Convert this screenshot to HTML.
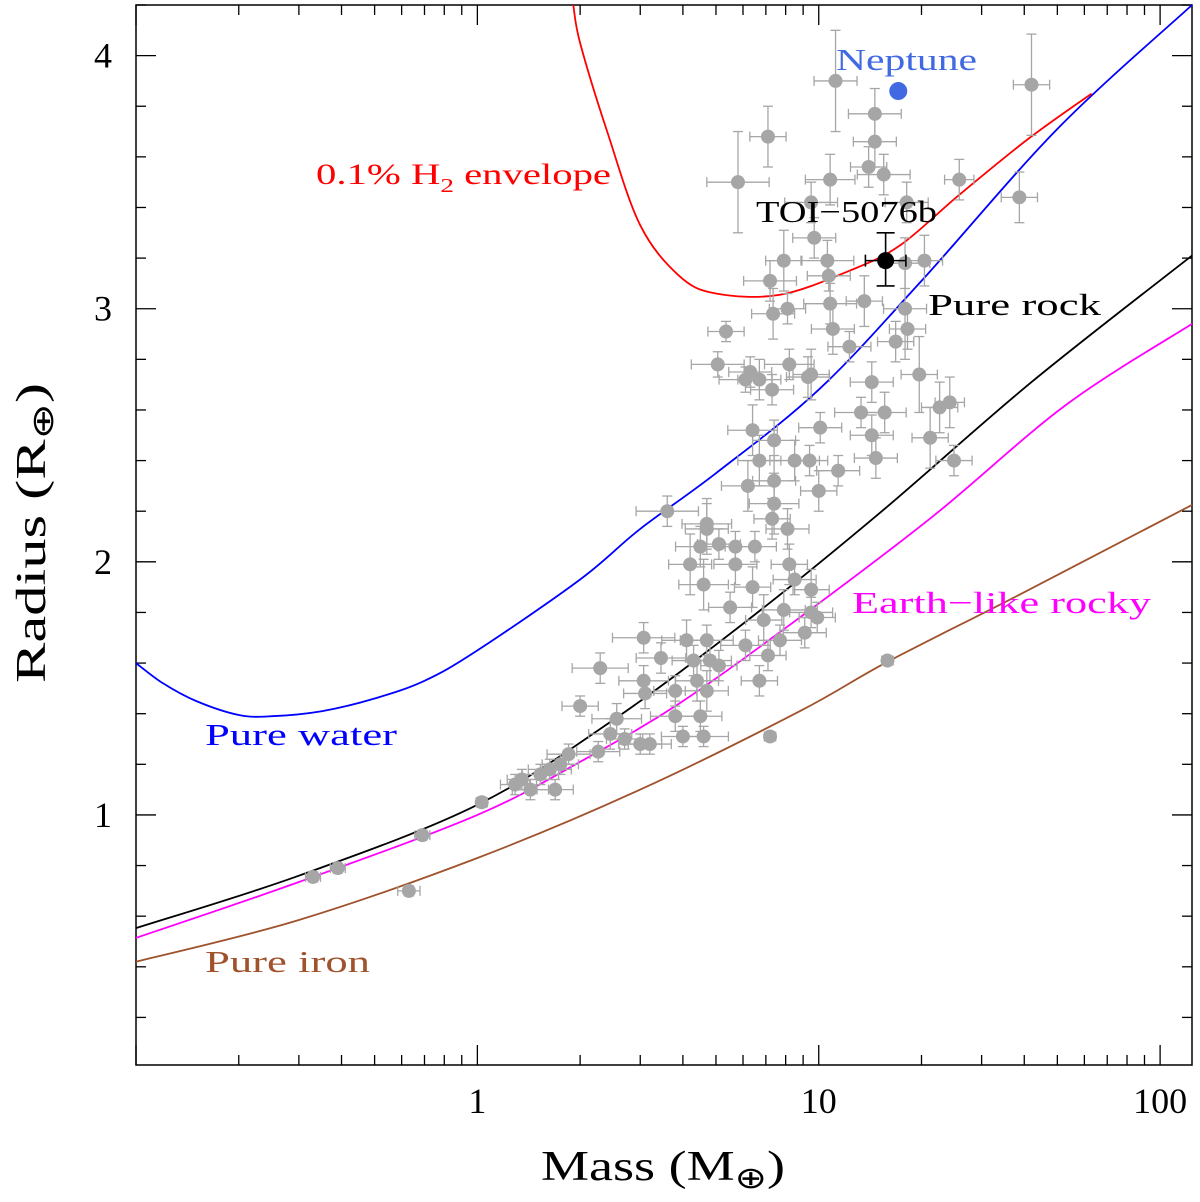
<!DOCTYPE html>
<html><head><meta charset="utf-8">
<style>
html,body{margin:0;padding:0;background:#fff;}
svg{display:block;font-family:"Liberation Serif",serif;}
</style></head>
<body>
<svg id="chart" width="1200" height="1202" viewBox="0 0 1200 1202">
<rect x="136" y="5" width="1056" height="1060" fill="none" stroke="#000" stroke-width="1.5"/>
<g id="ticks"></g>
<g id="curves"></g>
<g id="points"></g>
<text x="541" y="1180" font-size="42" textLength="244" lengthAdjust="spacingAndGlyphs">Mass (M<tspan font-size="30" dy="8">⊕</tspan><tspan dy="-8">)</tspan></text>
<text transform="translate(45,683) rotate(-90)" font-size="42" textLength="300" lengthAdjust="spacingAndGlyphs">Radius (R<tspan font-size="30" dy="8">⊕</tspan><tspan dy="-8">)</tspan></text>
<text x="836" y="70" font-size="31" fill="#4169e1" textLength="141" lengthAdjust="spacingAndGlyphs">Neptune</text>
<text x="316" y="184" font-size="30" fill="#ff0000" textLength="295" lengthAdjust="spacingAndGlyphs">0.1% H<tspan font-size="20" dy="8">2</tspan><tspan dy="-8"> envelope</tspan></text>
<text x="756" y="222" font-size="31" fill="#000" textLength="181" lengthAdjust="spacingAndGlyphs">TOI−5076b</text>
<text x="928" y="315" font-size="31" fill="#000" textLength="173" lengthAdjust="spacingAndGlyphs">Pure rock</text>
<text x="852" y="613" font-size="31" fill="#ff00ff" textLength="299" lengthAdjust="spacingAndGlyphs">Earth−like rocky</text>
<text x="205" y="745" font-size="31" fill="#0000ff" textLength="192" lengthAdjust="spacingAndGlyphs">Pure water</text>
<text x="205" y="972" font-size="31" fill="#a0522d" textLength="165" lengthAdjust="spacingAndGlyphs">Pure iron</text>
</svg>
<script>
const xTicksMajor=[1,10,100];
const xTickLabels=["1","10","100"];
const yTicksMajor=[1,2,3,4];
const yTickLabels=["1","2","3","4"];
const rockM=[0.1,0.3,1,2.5,6.2,15,42,124];
const rockR=[0.553,0.76,1.04,1.375,1.77,2.19,2.71,3.21];
const earthM=[0.1,0.3,1,2,3.9,8.8,21.6,53,124];
const earthR=[0.514,0.735,1.0,1.21,1.44,1.78,2.18,2.62,2.94];
const ironM=[0.1,0.3,1,3,8.8,15.9,40,124];
const ironR=[0.42,0.585,0.83,1.10,1.41,1.605,1.88,2.225];
const waterM=[0.1,0.12,0.15,0.2,0.25,0.35,0.5,0.7,1,2,3,5,10,20,50,124];
const waterR=[1.60,1.52,1.45,1.395,1.39,1.41,1.46,1.53,1.65,1.93,2.13,2.35,2.68,3.11,3.71,4.2];
const h2M=[1.91,2.0,2.4,3.0,3.9,5.0,7.7,12.3,17.3,25.8,41,63];
const h2R=[4.2,4.05,3.7,3.33,3.13,3.06,3.055,3.15,3.25,3.45,3.67,3.85];
const masses=[11.2,42,14.6,14.6,7.1,5.8,10.8,14.0,15.5,25.8,38.7,18.1,9.5,9.7,7.9,7.2,10.6,10.7,20.4,17.9,7.35,8.1,10.8,11.0,13.6,17.9,18.2,16.8,12.3,5.35,5.06,6.3,6.7,6.1,9.5,8.2,9.3,7.3,19.7,14.3,22.6,24.2,13.3,15.6,10.1,21.2,24.9,14.3,14.7,6.4,7.4,6.7,8.5,9.4,11.4,7.4,6.2,10.0,7.4,7.3,8.1,3.6,4.7,4.7,5.1,5.7,6.5,4.5,4.2,5.7,8.2,4.6,6.4,8.5,9.5,7.9,5.5,6.9,9.5,9.9,9.1,7.7,7.1,6.1,4.7,4.1,3.07,3.45,4.3,4.8,5.1,4.7,4.4,6.7,2.29,3.07,3.1,3.8,3.8,4.5,2.0,4.0,4.6,2.56,2.45,2.7,3.2,3.0,7.2,2.26,1.85,1.75,1.63,1.53,1.35,1.29,1.43,1.69,1.03,0.69,0.39,0.33,0.63,15.9];
const radii=[3.90,3.885,3.77,3.66,3.68,3.50,3.51,3.56,3.53,3.51,3.44,3.42,3.42,3.28,3.19,3.11,3.19,3.13,3.19,3.18,2.98,3.00,3.02,2.92,3.03,3.0,2.92,2.87,2.85,2.91,2.78,2.75,2.72,2.72,2.74,2.78,2.73,2.68,2.74,2.71,2.61,2.63,2.59,2.59,2.53,2.49,2.40,2.50,2.41,2.52,2.48,2.40,2.40,2.40,2.36,2.32,2.30,2.28,2.23,2.17,2.13,2.20,2.15,2.13,2.07,2.06,2.06,2.06,1.99,1.99,1.99,1.91,1.90,1.93,1.89,1.81,1.82,1.77,1.80,1.78,1.72,1.69,1.63,1.67,1.69,1.69,1.70,1.62,1.61,1.61,1.59,1.49,1.53,1.53,1.58,1.53,1.48,1.49,1.39,1.39,1.43,1.31,1.31,1.38,1.32,1.30,1.28,1.28,1.31,1.25,1.24,1.20,1.18,1.16,1.14,1.12,1.10,1.10,1.05,0.92,0.79,0.755,0.70,1.61];
const massErr=[0.12,0.10,0.15,0.12,0.10,0.18,0.14,0.10,0.15,0.08,0.10,0.12,0.15,0.12,0.10,0.15,0.15,0.12,0.10,0.14,0.12,0.10,0.15,0.12,0.10,0.12,0.10,0.10,0.12,0.10,0.15,0.12,0.12,0.15,0.10,0.14,0.12,0.12,0.10,0.12,0.10,0.08,0.15,0.12,0.12,0.10,0.10,0.12,0.12,0.14,0.12,0.12,0.14,0.10,0.12,0.12,0.15,0.10,0.14,0.10,0.12,0.18,0.14,0.12,0.12,0.10,0.12,0.14,0.12,0.12,0.10,0.14,0.10,0.12,0.10,0.12,0.12,0.10,0.12,0.10,0.12,0.12,0.10,0.14,0.15,0.14,0.18,0.14,0.12,0.12,0.10,0.12,0.12,0.10,0.16,0.14,0.12,0.12,0.14,0.12,0.10,0.12,0.14,0.14,0.12,0.10,0.12,0.12,0.03,0.12,0.12,0.10,0.12,0.10,0.08,0.08,0.10,0.10,0.03,0.04,0.04,0.04,0.06,0.03];
const radErr=[0.20,0.20,0.10,0.10,0.12,0.20,0.10,0.08,0.08,0.08,0.10,0.08,0.08,0.08,0.12,0.08,0.08,0.06,0.10,0.10,0.10,0.06,0.08,0.10,0.10,0.20,0.08,0.08,0.06,0.04,0.05,0.06,0.08,0.05,0.10,0.06,0.08,0.06,0.15,0.08,0.10,0.10,0.06,0.08,0.06,0.12,0.06,0.08,0.08,0.10,0.08,0.10,0.08,0.06,0.06,0.10,0.10,0.08,0.12,0.08,0.08,0.06,0.10,0.10,0.06,0.06,0.06,0.08,0.12,0.08,0.08,0.10,0.08,0.06,0.08,0.08,0.06,0.10,0.06,0.06,0.06,0.06,0.06,0.06,0.06,0.08,0.06,0.06,0.06,0.08,0.06,0.08,0.08,0.06,0.06,0.06,0.06,0.06,0.06,0.06,0.04,0.04,0.04,0.06,0.06,0.04,0.04,0.04,0.01,0.04,0.04,0.04,0.04,0.04,0.04,0.04,0.04,0.04,0.02,0.02,0.02,0.02,0.02,0.01];
const toiMass=[15.7], toiMassLo=[13.7], toiMassHi=[18.0];
const toiRad=[3.19], toiRadLo=[3.09], toiRadHi=[3.30];
const neptuneMass=[17.1], neptuneRad=[3.86];

const NS='http://www.w3.org/2000/svg';
const X0=136,X1=1192,Y0=5,Y1=1065;
const LMIN=Math.log10(0.1), LMAX=Math.log10(124);
function xs(m){return X0+(Math.log10(m)-LMIN)/(LMAX-LMIN)*(X1-X0);}
const RMIN=0.012,RMAX=4.2;
function ys(r){return Y1-(r-RMIN)/(RMAX-RMIN)*(Y1-Y0);}
function mk(tag,attrs,parent){const e=document.createElementNS(NS,tag);for(const k in attrs)e.setAttribute(k,attrs[k]);parent.appendChild(e);return e;}

const tg=document.getElementById('ticks');
for(let d=-1;d<=2;d++){for(let k=1;k<=9;k++){const m=k*Math.pow(10,d);if(m<0.1||m>124)continue;const x=xs(m);const L=(k===1)?20:10;
 const t1=mk('line',{x1:x,x2:x,y1:Y1,y2:Y1-L,stroke:'#000','stroke-width':1.3},tg);
 
 
 const t2=mk('line',{x1:x,x2:x,y1:Y0,y2:Y0+L,stroke:'#000','stroke-width':1.3},tg);
 
 
}}
xTicksMajor.forEach((m,i)=>{const t=mk('text',{x:xs(m),y:1113,'font-size':36,'text-anchor':'middle'},tg);t.textContent=xTickLabels[i];
 
 });
for(let i=1;i<=21;i++){const r=i*0.2;if(r>RMAX+0.001)continue;const y=ys(r);const major=(i%5===0);const L=major?20:10;
 const t1=mk('line',{x1:X0,x2:X0+L,y1:y,y2:y,stroke:'#000','stroke-width':1.3},tg);
 
 
 const t2=mk('line',{x1:X1,x2:X1-L,y1:y,y2:y,stroke:'#000','stroke-width':1.3},tg);
 
 
}
yTicksMajor.forEach((r,i)=>{const t=mk('text',{x:112,y:ys(r)+12,'font-size':36,'text-anchor':'end'},tg);t.textContent=yTickLabels[i];
 
 });

const cg=document.getElementById('curves');
function curve(M,R,color,name){
 const P=M.map((m,i)=>[xs(m),ys(R[i])]);
 let d='M'+P[0][0].toFixed(1)+','+P[0][1].toFixed(1);
 for(let i=0;i<P.length-1;i++){const p0=P[Math.max(0,i-1)],p1=P[i],p2=P[i+1],p3=P[Math.min(P.length-1,i+2)];
  const c1=[p1[0]+(p2[0]-p0[0])/6,p1[1]+(p2[1]-p0[1])/6],c2=[p2[0]-(p3[0]-p1[0])/6,p2[1]-(p3[1]-p1[1])/6];
  d+=' C'+c1[0].toFixed(1)+','+c1[1].toFixed(1)+' '+c2[0].toFixed(1)+','+c2[1].toFixed(1)+' '+p2[0].toFixed(1)+','+p2[1].toFixed(1);}
 const p=mk('path',{d:d,fill:'none',stroke:color,'stroke-width':1.8,'stroke-linejoin':'round'},cg);
 
 }
curve(ironM,ironR,'#a0522d','pure-iron-curve');
curve(earthM,earthR,'#ff00ff','earth-like-curve');
curve(rockM,rockR,'#000000','pure-rock-curve');
curve(waterM,waterR,'#0000ff','pure-water-curve');
curve(h2M,h2R,'#ff0000','h2-envelope-curve');

const pg=document.getElementById('points');
const gray='#a6a6a6';
masses.forEach((m,i)=>{const g=mk('g',{},pg);
 
 
 const x=xs(m),y=ys(radii[i]);const xl=xs(m/(1+massErr[i]*1.3)),xr=xs(m*(1+massErr[i]*1.3));
 const yt=ys(radii[i]+radErr[i]),yb=ys(radii[i]-radErr[i]);
 mk('line',{x1:xl,x2:xr,y1:y,y2:y,stroke:gray,'stroke-width':1.3},g);
 mk('line',{x1:x,x2:x,y1:yt,y2:yb,stroke:gray,'stroke-width':1.3},g);
 mk('line',{x1:xl,x2:xl,y1:y-5,y2:y+5,stroke:gray,'stroke-width':1.3},g);
 mk('line',{x1:xr,x2:xr,y1:y-5,y2:y+5,stroke:gray,'stroke-width':1.3},g);
 mk('line',{x1:x-5,x2:x+5,y1:yt,y2:yt,stroke:gray,'stroke-width':1.3},g);
 mk('line',{x1:x-5,x2:x+5,y1:yb,y2:yb,stroke:gray,'stroke-width':1.3},g);
 mk('circle',{cx:x,cy:y,r:7,fill:gray},g);
});
{const g=mk('g',{},pg);
 
 
 const x=xs(toiMass[0]),y=ys(toiRad[0]),xl=xs(toiMassLo[0]),xr=xs(toiMassHi[0]),yt=ys(toiRadHi[0]),yb=ys(toiRadLo[0]);
 mk('line',{x1:xl,x2:xr,y1:y,y2:y,stroke:'#000','stroke-width':1.6},g);
 mk('line',{x1:x,x2:x,y1:yt,y2:yb,stroke:'#000','stroke-width':1.6},g);
 mk('line',{x1:xl,x2:xl,y1:y-6,y2:y+6,stroke:'#000','stroke-width':1.6},g);
 mk('line',{x1:xr,x2:xr,y1:y-6,y2:y+6,stroke:'#000','stroke-width':1.6},g);
 mk('line',{x1:x-9,x2:x+9,y1:yt,y2:yt,stroke:'#000','stroke-width':1.6},g);
 mk('line',{x1:x-9,x2:x+9,y1:yb,y2:yb,stroke:'#000','stroke-width':1.6},g);
 mk('circle',{cx:x,cy:y,r:8.5,fill:'#000'},g);}
{const c=mk('circle',{cx:xs(neptuneMass[0]),cy:ys(neptuneRad[0]),r:9,fill:'#4169e1'},pg);
 
 }
</script>
</body></html>
